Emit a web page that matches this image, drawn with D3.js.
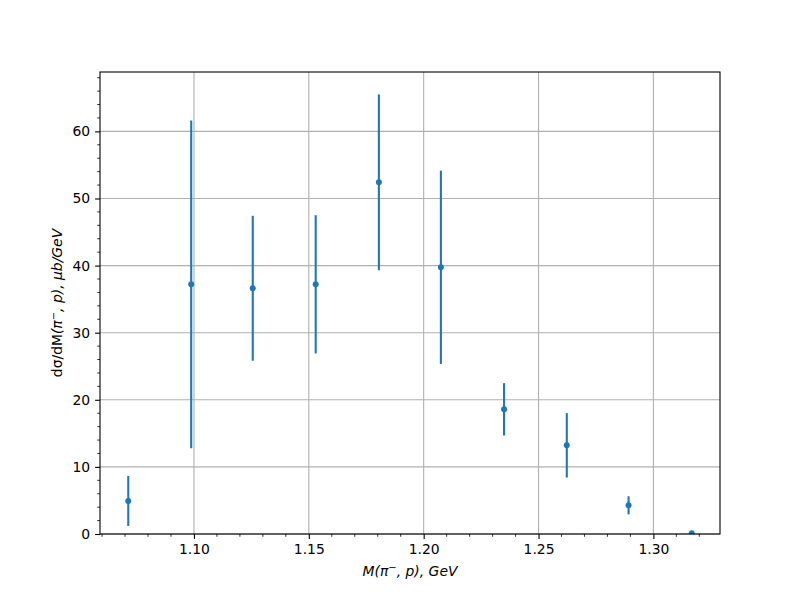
<!DOCTYPE html>
<html>
<head>
<meta charset="utf-8">
<script src="https://cdn.jsdelivr.net/npm/d3@7"></script>
<style>
  body { margin: 0; background: #fff; }
  svg { display: block; }
  text { font-family: "DejaVu Sans", sans-serif; }
</style>
</head>
<body>
<svg id="chart" width="800" height="600"></svg>
<script>
// Data
const massValues = [1.0714, 1.0988, 1.1256, 1.1530, 1.1805, 1.2075, 1.2350, 1.2623, 1.2892, 1.3167];
const xsecValues = [4.92, 37.21, 36.62, 37.21, 52.41, 39.75, 18.58, 13.22, 4.27, 0.10];
const xsecErrors = [3.72, 24.42, 10.8, 10.3, 13.1, 14.4, 3.9, 4.8, 1.35, 0.05];
const xTickValues = [1.10, 1.15, 1.20, 1.25, 1.30];
const yTickValues = [0, 10, 20, 30, 40, 50, 60];

const color = "#1f77b4";
const W = 800, H = 600;
const margin = { left: 100, right: 80, top: 72, bottom: 66 };
const svg = d3.select("#chart");

const x = d3.scaleLinear().domain([1.0591, 1.3290]).range([margin.left, W - margin.right]);
const y = d3.scaleLinear().domain([0, 68.85]).range([H - margin.bottom, margin.top]);

const x0 = margin.left, x1 = W - margin.right, y0 = H - margin.bottom, y1 = margin.top;
const fs = 13.9;

// grid
const grid = svg.append("g");
grid.selectAll("line.gx").data(xTickValues).join("line")
  .attr("x1", d => x(d)).attr("x2", d => x(d)).attr("y1", y0).attr("y2", y1)
  .attr("stroke", "#b0b0b0").attr("stroke-width", 1.1);
grid.selectAll("line.gy").data(yTickValues).join("line")
  .attr("y1", d => y(d)).attr("y2", d => y(d)).attr("x1", x0).attr("x2", x1)
  .attr("stroke", "#b0b0b0").attr("stroke-width", 1.1);

// axes
const xAxis = d3.axisBottom(x).tickValues(xTickValues).tickFormat(d3.format(".2f"))
  .tickSizeInner(4.9).tickSizeOuter(0).tickPadding(4.9);
const yAxis = d3.axisLeft(y).tickValues(yTickValues).tickFormat(d3.format("d"))
  .tickSizeInner(4.9).tickSizeOuter(0).tickPadding(4.9);

const xMinor = d3.range(106, 133).map(v => v / 100).filter(v => v >= 1.0591 && v <= 1.3290 && !xTickValues.some(t => Math.abs(t - v) < 1e-9));
const yMinor = d3.range(0, 69, 2).filter(v => v % 10 !== 0);

const gx = svg.append("g").attr("transform", `translate(0,${y0})`).call(xAxis);
const gy = svg.append("g").attr("transform", `translate(${x0},0)`).call(yAxis);
[gx, gy].forEach(g => {
  g.select(".domain").remove();
  g.selectAll(".tick line").attr("stroke", "#000").attr("stroke-width", 1.1);
  g.selectAll(".tick text").attr("fill", "#000").style("font-size", fs + "px")
    .style("font-family", "DejaVu Sans");
});
gx.selectAll(".tick text").attr("dy", "0.75em");

svg.append("g").selectAll("line").data(xMinor).join("line")
  .attr("x1", d => x(d)).attr("x2", d => x(d)).attr("y1", y0).attr("y2", y0 + 2.8)
  .attr("stroke", "#000").attr("stroke-width", 0.8);
svg.append("g").selectAll("line").data(yMinor).join("line")
  .attr("y1", d => y(d)).attr("y2", d => y(d)).attr("x1", x0).attr("x2", x0 - 2.8)
  .attr("stroke", "#000").attr("stroke-width", 0.8);

// data
const data = massValues.map((m, i) => ({ m, v: xsecValues[i], e: xsecErrors[i] }));
const clip = svg.append("defs").append("clipPath").attr("id", "clip")
  .append("rect").attr("x", x0).attr("y", y1).attr("width", x1 - x0).attr("height", y0 - y1);
const dg = svg.append("g").attr("clip-path", "url(#clip)");
dg.selectAll("line.err").data(data).join("line")
  .attr("x1", d => x(d.m)).attr("x2", d => x(d.m))
  .attr("y1", d => y(d.v - d.e)).attr("y2", d => y(d.v + d.e))
  .attr("stroke", color).attr("stroke-width", 2.1);
dg.selectAll("circle").data(data).join("circle")
  .attr("cx", d => x(d.m)).attr("cy", d => y(d.v)).attr("r", 3)
  .attr("fill", color);

// spines
svg.append("rect").attr("x", x0).attr("y", y1).attr("width", x1 - x0).attr("height", y0 - y1)
  .attr("fill", "none").attr("stroke", "#000").attr("stroke-width", 1.1);

// x label
const xl = svg.append("text").attr("x", (x0 + x1) / 2).attr("y", 576)
  .attr("text-anchor", "middle").style("font-size", fs + "px");
xl.append("tspan").attr("font-style", "italic").text("M(π");
xl.append("tspan").attr("font-style", "italic").attr("dy", -5).style("font-size", "10px").text("−");
xl.append("tspan").attr("font-style", "italic").attr("dy", 5).text(", p), GeV");

// y label
const yl = svg.append("text")
  .attr("transform", `translate(62,${(y0 + y1) / 2}) rotate(-90)`)
  .attr("text-anchor", "middle").style("font-size", fs + "px");
yl.append("tspan").text("dσ/dM");
yl.append("tspan").attr("font-style", "italic").text("(π");
yl.append("tspan").attr("font-style", "italic").attr("dy", -5).style("font-size", "10px").text("−");
yl.append("tspan").attr("font-style", "italic").attr("dy", 5).text(", p), μb/GeV");
</script>
</body>
</html>
